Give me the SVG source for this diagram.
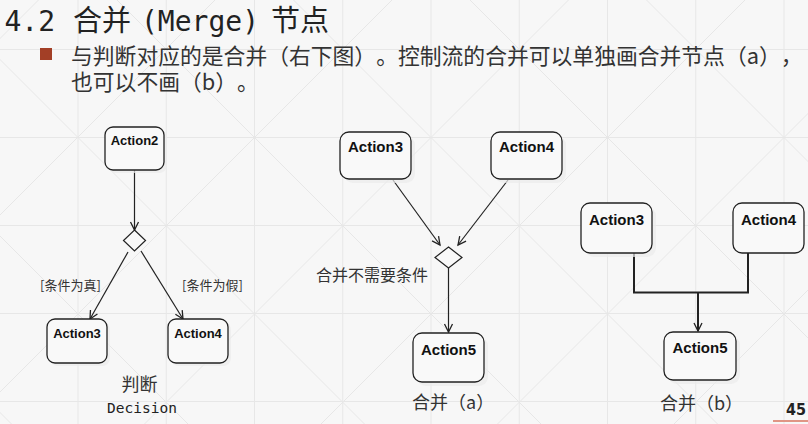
<svg xmlns="http://www.w3.org/2000/svg" width="808" height="424" viewBox="0 0 808 424">
<defs>
<style>
.bg{stroke:#e7e7e7;stroke-width:1;fill:none}
.node{fill:#f9f9f9;stroke:#222;stroke-width:1.3}
.shadow{fill:#ebebeb;opacity:0.7}
.lbl{font-family:"Liberation Sans",Arial,sans-serif;font-weight:bold;fill:#111;text-anchor:middle}
.cjk{font-family:"Noto Sans CJK SC",sans-serif;fill:#333;text-spacing-trim:space-all}
.edge{fill:none;stroke:#222;stroke-width:1.2}
.thick{stroke-width:2}
.dia{fill:#f9f9f9;stroke:#222;stroke-width:1.2}
text{text-spacing-trim:space-all}
</style>
<marker id="arr" markerUnits="userSpaceOnUse" markerWidth="12" markerHeight="12" refX="9" refY="5" orient="auto">
<path d="M1,1 L9,5 L1,9" fill="none" stroke="#222" stroke-width="1.3"/>
</marker>
</defs>
<rect x="0" y="0" width="808" height="424" fill="#f7f7f7"/>
<g id="background" class="bg">
<line x1="78" y1="0" x2="78" y2="424"/>
<line x1="166.25" y1="0" x2="166.25" y2="424"/>
<line x1="254.5" y1="0" x2="254.5" y2="424"/>
<line x1="342.75" y1="0" x2="342.75" y2="424"/>
<line x1="431" y1="0" x2="431" y2="424"/>
<line x1="519.25" y1="0" x2="519.25" y2="424"/>
<line x1="607.5" y1="0" x2="607.5" y2="424"/>
<line x1="695.75" y1="0" x2="695.75" y2="424"/>
<line x1="784" y1="0" x2="784" y2="424"/>
<line x1="0" y1="49.5" x2="808" y2="49.5"/>
<line x1="0" y1="137.5" x2="808" y2="137.5"/>
<line x1="0" y1="225.5" x2="808" y2="225.5"/>
<line x1="0" y1="313.5" x2="808" y2="313.5"/>
<line x1="0" y1="401.5" x2="808" y2="401.5"/>
<line x1="-412.5" y1="0" x2="11.5" y2="424"/>
<line x1="-236" y1="0" x2="188" y2="424"/>
<line x1="-59.5" y1="0" x2="364.5" y2="424"/>
<line x1="117" y1="0" x2="541" y2="424"/>
<line x1="293.5" y1="0" x2="717.5" y2="424"/>
<line x1="470" y1="0" x2="894" y2="424"/>
<line x1="646.5" y1="0" x2="1070.5" y2="424"/>
<line x1="38.5" y1="0" x2="-385.5" y2="424"/>
<line x1="215" y1="0" x2="-209" y2="424"/>
<line x1="392" y1="0" x2="-32" y2="424"/>
<line x1="568.5" y1="0" x2="144.5" y2="424"/>
<line x1="745" y1="0" x2="321" y2="424"/>
<line x1="921.5" y1="0" x2="497.5" y2="424"/>
<line x1="1098" y1="0" x2="674" y2="424"/>
<line x1="1274.5" y1="0" x2="850.5" y2="424"/>
</g>
<g id="title">
<text y="31" fill="#222" font-size="28" font-family="DejaVu Sans Mono,monospace"><tspan x="4.5">4.2</tspan><tspan x="73" font-family="Noto Sans CJK SC,sans-serif" font-size="29">合并</tspan><tspan x="141">(Merge)</tspan><tspan x="271" font-family="Noto Sans CJK SC,sans-serif" font-size="29">节点</tspan></text>
</g>
<g id="bullet">
<rect x="40" y="48" width="12" height="12" fill="#a33f26"/>
<text class="cjk" x="71" y="64" font-size="21.8">与判断对应的是合并（右下图）。控制流的合并可以单独画合并节点（a），</text>
<text class="cjk" x="71" y="90" font-size="21.8">也可以不画（b）。</text>
</g>
<g id="connectors">
<line class="edge" x1="134.5" y1="170" x2="134.5" y2="230" marker-end="url(#arr)"/>
<line class="edge" x1="128" y1="252" x2="90" y2="319" marker-end="url(#arr)"/>
<line class="edge" x1="141" y1="251" x2="183" y2="319" marker-end="url(#arr)"/>
<line class="edge" x1="393" y1="180" x2="440" y2="245" marker-end="url(#arr)"/>
<line class="edge" x1="508" y1="180" x2="458" y2="245" marker-end="url(#arr)"/>
<line class="edge" x1="448.5" y1="268" x2="448.5" y2="332" marker-end="url(#arr)"/>
<path class="edge thick" d="M634,253 V292.5 H748 V253"/>
<line class="edge thick" x1="698" y1="292.5" x2="698" y2="331" marker-end="url(#arr)"/>
</g>
<g id="decision-left">
<polygon class="dia" points="134.5,230 145.5,240.5 134.5,251 123.5,240.5"/>
</g>
<g id="merge-a">
<polygon class="dia" points="448.5,247 462,257.5 448.5,268 435,257.5"/>
</g>
<g id="n-action2">
<rect class="shadow" x="108" y="130" width="59" height="43" rx="8"/>
<rect class="node" x="105" y="127" width="59" height="43" rx="8"/>
<text class="lbl" x="134.5" y="145" font-size="13">Action2</text>
</g>
<g id="n-action3-left">
<rect class="shadow" x="50" y="322" width="60" height="44" rx="8"/>
<rect class="node" x="47" y="319" width="60" height="44" rx="8"/>
<text class="lbl" x="77" y="338" font-size="13">Action3</text>
</g>
<g id="n-action4-left">
<rect class="shadow" x="171" y="322" width="60" height="44" rx="8"/>
<rect class="node" x="168" y="319" width="60" height="44" rx="8"/>
<text class="lbl" x="198" y="338" font-size="13">Action4</text>
</g>
<g id="n-action3-a">
<rect class="shadow" x="344" y="136" width="71" height="47" rx="9"/>
<rect class="node" x="340" y="132" width="71" height="47" rx="9"/>
<text class="lbl" x="375.5" y="152" font-size="15">Action3</text>
</g>
<g id="n-action4-a">
<rect class="shadow" x="495" y="136" width="71" height="47" rx="9"/>
<rect class="node" x="491" y="132" width="71" height="47" rx="9"/>
<text class="lbl" x="526.5" y="152" font-size="15">Action4</text>
</g>
<g id="n-action5-a">
<rect class="shadow" x="417" y="337" width="71" height="49" rx="9"/>
<rect class="node" x="413" y="333" width="71" height="49" rx="9"/>
<text class="lbl" x="448.5" y="355" font-size="15">Action5</text>
</g>
<g id="n-action3-b">
<rect class="shadow" x="585" y="207" width="71" height="50" rx="9"/>
<rect class="node" x="581" y="203" width="71" height="50" rx="9"/>
<text class="lbl" x="616.5" y="225" font-size="15">Action3</text>
</g>
<g id="n-action4-b">
<rect class="node" x="733" y="203" width="71" height="50" rx="9"/>
<text class="lbl" x="768.5" y="225" font-size="15">Action4</text>
</g>
<g id="n-action5-b">
<rect class="shadow" x="668" y="336" width="72" height="48" rx="9"/>
<rect class="node" x="664" y="332" width="72" height="48" rx="9"/>
<text class="lbl" x="700" y="353" font-size="15">Action5</text>
</g>
<g id="labels">
<text class="cjk" x="40" y="290" font-size="13">[条件为真]</text>
<text class="cjk" x="182" y="290" font-size="13">[条件为假]</text>
<text class="cjk" x="316" y="281" font-size="16" fill="#444">合并不需要条件</text>
<text class="cjk" x="139.5" y="391" font-size="18" fill="#222" text-anchor="middle">判断</text>
<text x="142" y="413" font-size="14.5" fill="#222" font-family="DejaVu Sans Mono,monospace" text-anchor="middle">Decision</text>
<text class="cjk" x="412" y="409" font-size="18" fill="#222">合并（a）</text>
<text class="cjk" x="660" y="410" font-size="18" fill="#222">合并（b）</text>
</g>
<g id="page">
<text x="796" y="415" font-size="16" font-weight="bold" fill="#222" font-family="Liberation Sans Narrow,DejaVu Sans Condensed,sans-serif" text-anchor="middle">45</text>
<line x1="773" y1="421" x2="808" y2="421" stroke="#e09585" stroke-width="2"/>
</g>
</svg>
